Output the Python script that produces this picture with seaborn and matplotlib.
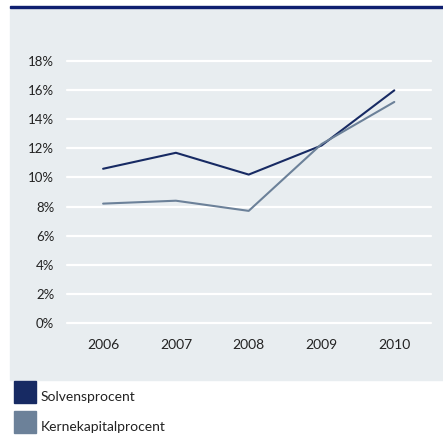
import pandas as pd
import matplotlib.pyplot as plt
import matplotlib.patches as mpatches
import seaborn as sns

# Data (percent)
years = ["2006", "2007", "2008", "2009", "2010"]
solvens = [10.6, 11.7, 10.2, 12.2, 16.0]
kerne = [8.2, 8.4, 7.7, 12.3, 15.2]
series = ["Solvensprocent", "Kernekapitalprocent"]
yticks = [0, 2, 4, 6, 8, 10, 12, 14, 16, 18]

navy = "#172a63"
greyblue = "#6c8199"
bg = "#e8edf0"
W, H = 443, 436

df = pd.DataFrame({
    "year": years * 2,
    "value": solvens + kerne,
    "series": [series[0]] * len(years) + [series[1]] * len(years),
})

sns.set_style("white")
plt.rcParams["font.family"] = ["Lato", "DejaVu Sans"]

fig = plt.figure(figsize = (W/100, H/100), dpi = 100)

# grey panel and navy top rule
fig.patches.append(mpatches.Rectangle((10/W, 1 - 380/H), 1, (380 - 8)/H,
                                      transform = fig.transFigure, color = bg, zorder = -2))
fig.patches.append(mpatches.Rectangle((10/W, 1 - 8.5/H), 1, 2.5/H,
                                      transform = fig.transFigure, color = "#0f1f70", zorder = -1))

ax = fig.add_axes([66.7/W, 1 - 322.7/H, (430.7 - 66.7)/W, (322.7 - 61.3)/H])
ax.set_facecolor("none")

for v in yticks:
    ax.axhline(v, color = "white", lw = 1.6, zorder = 1, clip_on = False)

sns.lineplot(data = df, x = "year", y = "value", hue = "series",
             palette = [navy, greyblue], lw = 1.5, ax = ax, legend = False,
             zorder = 3, clip_on = False)

ax.set_xlim(-0.5, 4.5)
ax.set_ylim(0, 18)
ax.set_yticks(yticks)
ax.set_yticklabels([f"{v}%" for v in yticks])
ax.tick_params(axis = "y", length = 0, pad = 9, labelsize = 9.5, labelcolor = "#222222")
ax.tick_params(axis = "x", length = 0, pad = 12, labelsize = 10, labelcolor = "#222222")
ax.set_xlabel("")
ax.set_ylabel("")
sns.despine(ax = ax, left = True, bottom = True)

# legend: squares with labels sitting on their bottom edge
for i, (name, col) in enumerate(zip(series, [navy, greyblue])):
    top = 381 + 30 * i
    fig.patches.append(mpatches.Rectangle((14/W, 1 - (top + 22)/H), 22/W, 22/H,
                                          transform = fig.transFigure, color = col))
    fig.text(41/W, 1 - (top + 20)/H, name, fontsize = 10, color = "#222222",
             va = "baseline", ha = "left")

fig.savefig("out.png", dpi = 100)
